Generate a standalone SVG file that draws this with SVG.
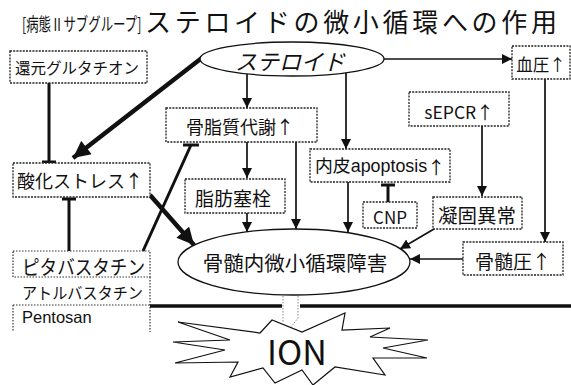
<svg xmlns="http://www.w3.org/2000/svg" width="571" height="385" viewBox="0 0 571 385">
<style>
.box{fill:#fff;stroke:#222;stroke-width:1.3;stroke-dasharray:2 1.2}
.dot{fill:none;stroke:#333;stroke-width:1.2;stroke-dasharray:1.5 1.5}
.ell{fill:#fff;stroke:#111;stroke-width:1.3}
.t{font-family:"Noto Sans CJK JP","Liberation Sans",sans-serif;fill:#111;text-anchor:middle;dominant-baseline:central}
.l{font-family:"Liberation Sans","Noto Sans CJK JP",sans-serif;fill:#111;dominant-baseline:central}
.j{font-family:"Noto Sans CJK JP",sans-serif}
.a{fill:none;stroke:#111;stroke-width:1.7}
.ak{fill:none;stroke:#111;stroke-width:4.5}
.tb{fill:none;stroke:#111;stroke-width:3}
</style>
<defs>
<marker id="ah" viewBox="0 0 10 10" refX="10" refY="5" markerWidth="10" markerHeight="11" markerUnits="userSpaceOnUse" orient="auto"><path d="M0,0 L10,5 L0,10 z" fill="#111"/></marker>
<marker id="ahk" viewBox="0 0 10 10" refX="10" refY="5" markerWidth="18" markerHeight="17" markerUnits="userSpaceOnUse" orient="auto"><path d="M0,0 L10,5 L0,10 z" fill="#111"/></marker>
</defs>

<g id="title">
<text transform="translate(22,31) scale(0.69,1)" x="0" y="0" font-family="Noto Sans CJK JP,sans-serif" font-size="18" fill="#111">[病態Ⅱサブグループ]</text>
<text x="145" y="32" font-family="Noto Sans CJK JP,sans-serif" font-size="26" fill="#111" textLength="412" lengthAdjust="spacing">ステロイドの微小循環への作用</text>
</g>

<g id="connectors">
<line class="ak" x1="203" y1="57" x2="73" y2="158" marker-end="url(#ahk)"/>
<line class="a" x1="247" y1="74" x2="247" y2="108" marker-end="url(#ah)"/>
<line class="a" x1="346" y1="73" x2="346" y2="149" marker-end="url(#ah)"/>
<line class="a" x1="384" y1="59" x2="512" y2="59" marker-end="url(#ah)"/>
<line class="a" x1="545" y1="79" x2="545" y2="242" marker-end="url(#ah)"/>
<line class="a" stroke-width="2" x1="463" y1="259" x2="410" y2="259" marker-end="url(#ah)"/>
<line class="a" x1="482" y1="126" x2="482" y2="196" marker-end="url(#ah)"/>
<line class="a" stroke-width="2" x1="434" y1="229" x2="400" y2="249" marker-end="url(#ah)"/>
<line class="a" x1="348" y1="182" x2="348" y2="232" marker-end="url(#ah)"/>
<line class="a" x1="247" y1="142" x2="247" y2="178" marker-end="url(#ah)"/>
<line class="a" x1="296" y1="142" x2="296" y2="229" marker-end="url(#ah)"/>
<line class="a" x1="247" y1="213" x2="247" y2="232" marker-end="url(#ah)"/>
<line class="ak" x1="150" y1="195" x2="194" y2="245" marker-end="url(#ahk)"/>
<path class="tb" d="M388,202 L388,185 M381,185 L395,185"/>
<path class="tb" d="M49,83 L49,162 M42,162 L56,162"/>
<path class="tb" d="M69,251 L69,199 M62,199 L76,199"/>
<path class="tb" stroke-width="2.6" d="M143,251 L191,145 M183,145 L199,145"/>
<line x1="150" y1="306" x2="282" y2="306" stroke="#111" stroke-width="3.5"/>
<line x1="300" y1="306" x2="571" y2="306" stroke="#111" stroke-width="3.5"/>
<path d="M283,296 L283,323 M298,296 L298,318 L291,327" fill="none" stroke="#888" stroke-width="1" stroke-dasharray="1.5 1.5"/>
</g>

<g id="steroid">
<ellipse class="ell" cx="292" cy="59" rx="92" ry="17"/>
<text class="t" x="290" y="60" font-size="22" font-style="italic">ステロイド</text>
</g>
<g id="gsh">
<rect class="box" x="10" y="51" width="137" height="32"/>
<text class="t" x="77" y="67" font-size="15.5">還元グルタチオン</text>
</g>
<g id="oxstress">
<rect class="box" x="13" y="163" width="137" height="34"/>
<text class="t" x="80" y="180" font-size="18">酸化ストレス↑</text>
</g>
<g id="lipid">
<rect class="box" x="166" y="108" width="151" height="34"/>
<text class="t" x="240" y="126" font-size="18">骨脂質代謝↑</text>
</g>
<g id="fat">
<rect class="box" x="185" y="179" width="100" height="34"/>
<text class="t" x="233" y="197" font-size="19">脂肪塞栓</text>
</g>
<g id="endo">
<rect class="box" x="310" y="149" width="140" height="33"/>
<text class="l" x="315" y="166" font-size="17.5" textLength="130" lengthAdjust="spacingAndGlyphs">内皮apoptosis<tspan class="j">↑</tspan></text>
</g>
<g id="cnp">
<rect class="box" x="363" y="202" width="54" height="26"/>
<text class="t" x="390" y="216" font-size="17" font-family="Liberation Sans,sans-serif">CNP</text>
</g>
<g id="sepcr">
<rect class="box" x="409" y="92" width="100" height="34"/>
<text class="t" x="459" y="111" font-size="17.5" font-family="Liberation Sans,Noto Sans CJK JP,sans-serif">sEPCR<tspan class="j">↑</tspan></text>
</g>
<g id="coag">
<rect class="box" x="433" y="197" width="89" height="32"/>
<text class="t" x="477" y="214" font-size="19.5">凝固異常</text>
</g>
<g id="bp">
<rect class="box" x="512" y="46" width="58" height="33"/>
<text class="t" x="541" y="64" font-size="16.5">血圧↑</text>
</g>
<g id="bmp">
<rect class="box" x="463" y="242" width="100" height="33"/>
<text class="t" x="513" y="260" font-size="19">骨髄圧↑</text>
</g>
<g id="micro">
<ellipse class="ell" cx="294" cy="262" rx="116" ry="33"/>
<text class="t" x="295" y="262" font-size="20.5">骨髄内微小循環障害</text>
</g>
<g id="statins">
<rect class="dot" x="13" y="251" width="137" height="26"/>
<path class="dot" d="M150,277 L150,332 M13,305 L150,305 M13,305 L13,332"/>
<text class="l" x="22" y="268" font-size="20" font-family="Noto Sans CJK JP,sans-serif" textLength="123" lengthAdjust="spacingAndGlyphs">ピタバスタチン</text>
<text class="l" x="22" y="293" font-size="16" font-family="Noto Sans CJK JP,sans-serif" textLength="121" lengthAdjust="spacingAndGlyphs">アトルバスタチン</text>
<text class="l" x="22" y="317" font-size="16.5">Pentosan</text>
</g>
<g id="ion">
<polygon points="178,322 260,333 272,320 302,332 345,313 342,330 390,328 370,337 428,340 383,348 427,358 373,358 385,375 335,367 313,385 302,370 275,383 263,368 230,377 238,362 175,363 225,350 173,342 230,340" fill="#fff" stroke="#111" stroke-width="1.2" stroke-linejoin="miter"/>
<text class="t" x="297" y="350" font-size="34" font-family="Liberation Sans,sans-serif">ION</text>
</g>
</svg>
